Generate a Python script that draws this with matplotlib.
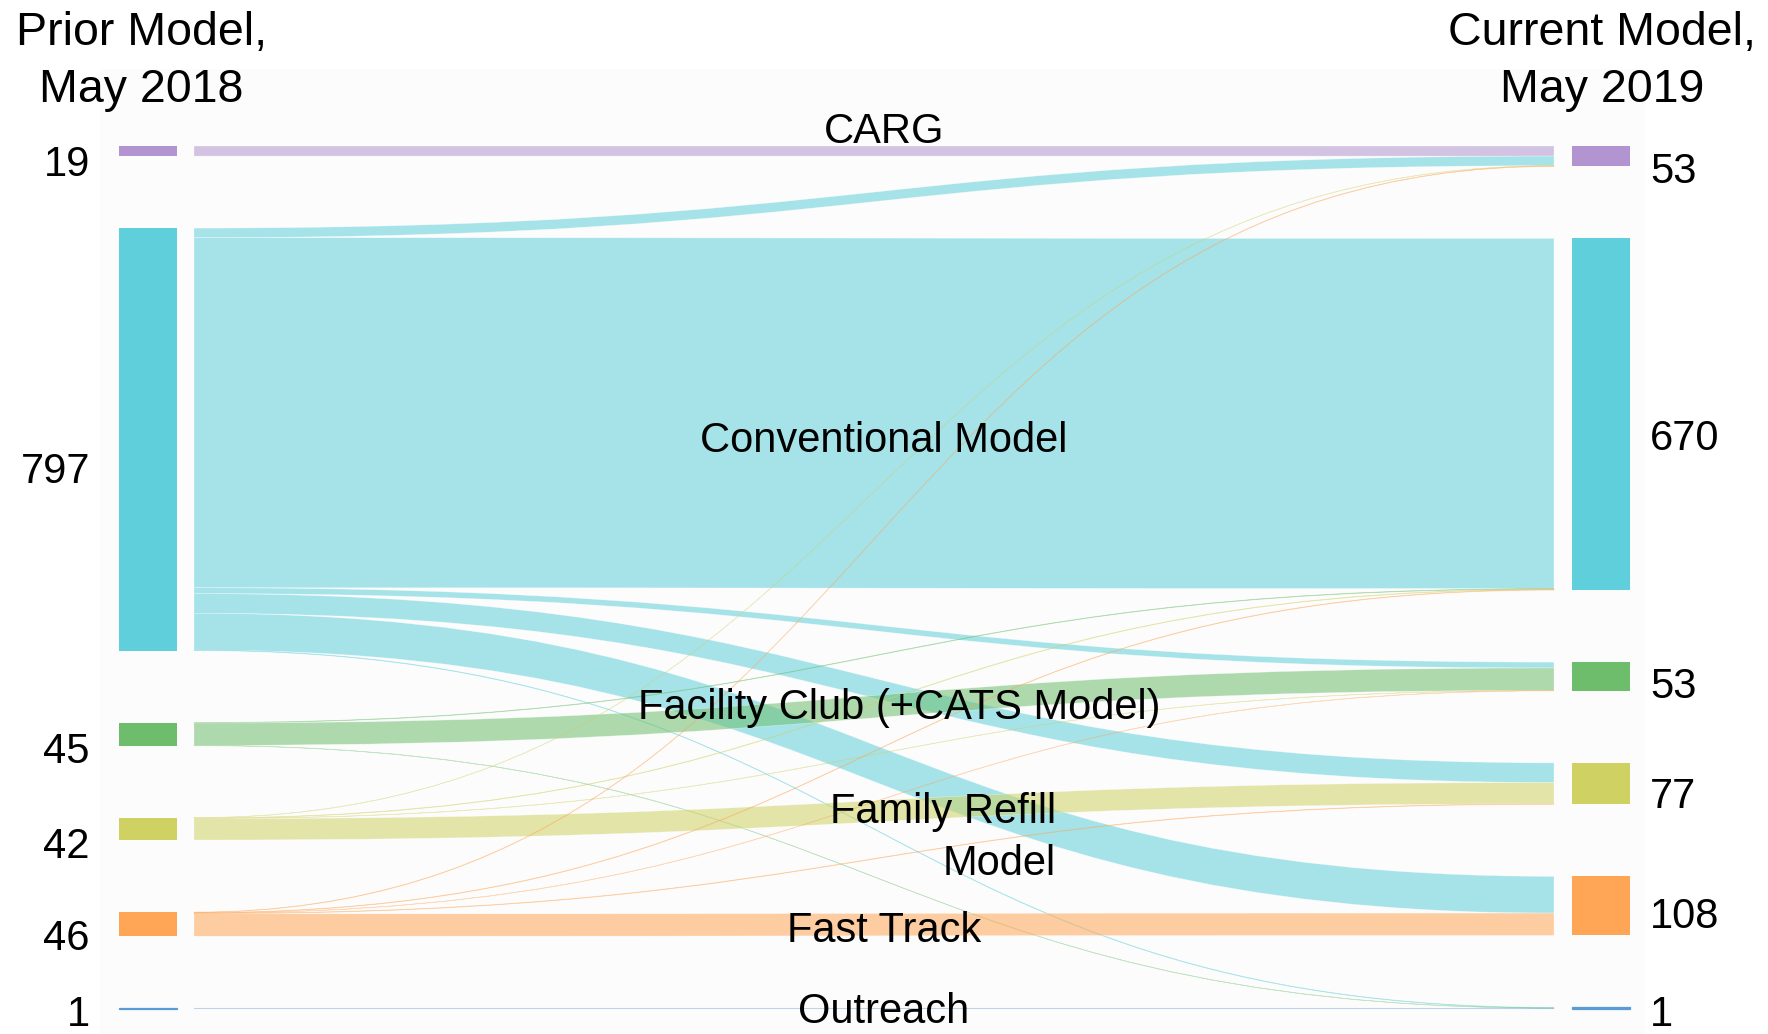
import matplotlib
matplotlib.use("Agg")
import matplotlib.pyplot as plt
from matplotlib.path import Path
from matplotlib.patches import PathPatch, Rectangle
import numpy as np

plt.rcParams['font.family'] = ['Liberation Sans', 'DejaVu Sans']

# ---------------- data ----------------
categories = ["CARG", "Conventional Model", "Facility Club (+CATS Model)",
              "Family Refill Model", "Fast Track", "Outreach"]
node_colors = ["#b294d0", "#5ecfdb", "#6dbd6d", "#cfd163", "#fea656", "#5b9bd5"]

# flows[source (May 2018)][target (May 2019)]
flows_carg = [19, 0, 0, 0, 0, 0]
flows_conv = [18, 658, 11, 37, 69, 1]
flows_fc = [0, 1, 42, 0, 0, 0.5]
flows_fr = [0.5, 1, 0.5, 40, 0, 0]
flows_ft = [1, 1, 0.5, 1, 42, 0]
flows_out = [0, 0, 0, 0, 0, 1]
flows = np.array([flows_carg, flows_conv, flows_fc, flows_fr, flows_ft, flows_out])

left_labels = ["19", "797", "45", "42", "46", "1"]
right_labels = ["53", "670", "53", "77", "108", "1"]

# ---------------- layout ----------------
W, H = 1768, 1034
PX_PER_UNIT = 0.532
TOP_PX = 146
GAP = 72 / PX_PER_UNIT
LX0, LX1 = 119, 177
RX0, RX1 = 1572, 1630
KX0, KX1 = 194, 1554

fig = plt.figure(figsize=(W / 100, H / 100), dpi=100)
ax = fig.add_axes([0, 0, 1, 1])
ax.set_xlim(0, W)
ax.set_ylim((H - TOP_PX) / PX_PER_UNIT, -TOP_PX / PX_PER_UNIT)
ax.axis('off')

# text overlay axes in pixels
tax = fig.add_axes([0, 0, 1, 1], zorder=5)
tax.set_xlim(0, W)
tax.set_ylim(H, 0)
tax.axis('off')
tax.patch.set_alpha(0)

# background of plotting area
ax.add_patch(Rectangle((100, (69 - TOP_PX) / PX_PER_UNIT), 1545,
                       (H - 69) / PX_PER_UNIT, facecolor="#fcfcfc",
                       edgecolor='none', zorder=0))

n = len(categories)
out_tot = flows.sum(axis=1)
in_tot = flows.sum(axis=0)

def tops(totals):
    t = []
    y = 0.0
    for v in totals:
        t.append(y)
        y += v + GAP
    return t

ltop = tops(out_tot)
rtop = tops(in_tot)

# source offsets ordered by target, target offsets ordered by source
src_off = [[0.0] * n for _ in range(n)]
tgt_off = [[0.0] * n for _ in range(n)]
for s in range(n):
    y = ltop[s]
    for t in range(n):
        src_off[s][t] = y
        y += flows[s, t]
for t in range(n):
    y = rtop[t]
    for s in range(n):
        tgt_off[s][t] = y
        y += flows[s, t]

xm = (KX0 + KX1) / 2
for s in range(n):
    for t in range(n):
        v = flows[s, t]
        if v <= 0:
            continue
        ys0, ys1 = src_off[s][t], src_off[s][t] + v
        yt0, yt1 = tgt_off[s][t], tgt_off[s][t] + v
        verts = [(KX0, ys0), (xm, ys0), (xm, yt0), (KX1, yt0),
                 (KX1, yt1), (xm, yt1), (xm, ys1), (KX0, ys1), (KX0, ys0)]
        codes = [Path.MOVETO, Path.CURVE4, Path.CURVE4, Path.CURVE4,
                 Path.LINETO, Path.CURVE4, Path.CURVE4, Path.CURVE4,
                 Path.CLOSEPOLY]
        col = matplotlib.colors.to_rgba(node_colors[s], 0.55)
        if v < 3:
            ea = 0.15 if s == n - 1 else 0.28
            patch = PathPatch(Path(verts, codes), facecolor=col,
                              edgecolor=matplotlib.colors.to_rgba(node_colors[s], ea),
                              lw=0.5, zorder=2)
        else:
            patch = PathPatch(Path(verts, codes), facecolor=col,
                              edgecolor=(1, 1, 1, 0.5), lw=0.4, zorder=2)
        ax.add_patch(patch)

for i in range(n):
    for (x0, x1, top, h) in ((LX0, LX1, ltop[i], out_tot[i]),
                             (RX0, RX1, rtop[i], in_tot[i])):
        small = h < 3
        ax.add_patch(Rectangle((x0, top), x1 - x0, h, facecolor=node_colors[i],
                               edgecolor=node_colors[i] if small else 'none',
                               lw=0.9 if small else 0, zorder=3))

# ---------------- text ----------------
FS_T = 33.5
FS = 30
tax.text(141, 45, "Prior Model,", ha='center', va='baseline', fontsize=FS_T)
tax.text(141, 102, "May 2018", ha='center', va='baseline', fontsize=FS_T)
tax.text(1602, 45, "Current Model,", ha='center', va='baseline', fontsize=FS_T)
tax.text(1602, 102, "May 2019", ha='center', va='baseline', fontsize=FS_T)

left_base = [176, 483, 763, 858, 950, 1026]
right_base = [183, 450, 698, 808, 928, 1026]
for lab, yb in zip(left_labels, left_base):
    tax.text(90, yb, lab, ha='right', va='baseline', fontsize=FS)
for lab, yb in zip(right_labels, right_base):
    tax.text(1650, yb, lab, ha='left', va='baseline', fontsize=FS)

tax.text(884, 143, categories[0], ha='center', va='baseline', fontsize=FS)
tax.text(884, 452, categories[1], ha='center', va='baseline', fontsize=FS)
tax.text(899, 719, categories[2], ha='center', va='baseline', fontsize=FS)
tax.text(1056, 823, "Family Refill", ha='right', va='baseline', fontsize=FS)
tax.text(1056, 875, "Model", ha='right', va='baseline', fontsize=FS)
tax.text(884, 942, categories[4], ha='center', va='baseline', fontsize=FS)
tax.text(884, 1023, categories[5], ha='center', va='baseline', fontsize=FS)

fig.savefig("out.png", dpi=100, facecolor='white')
